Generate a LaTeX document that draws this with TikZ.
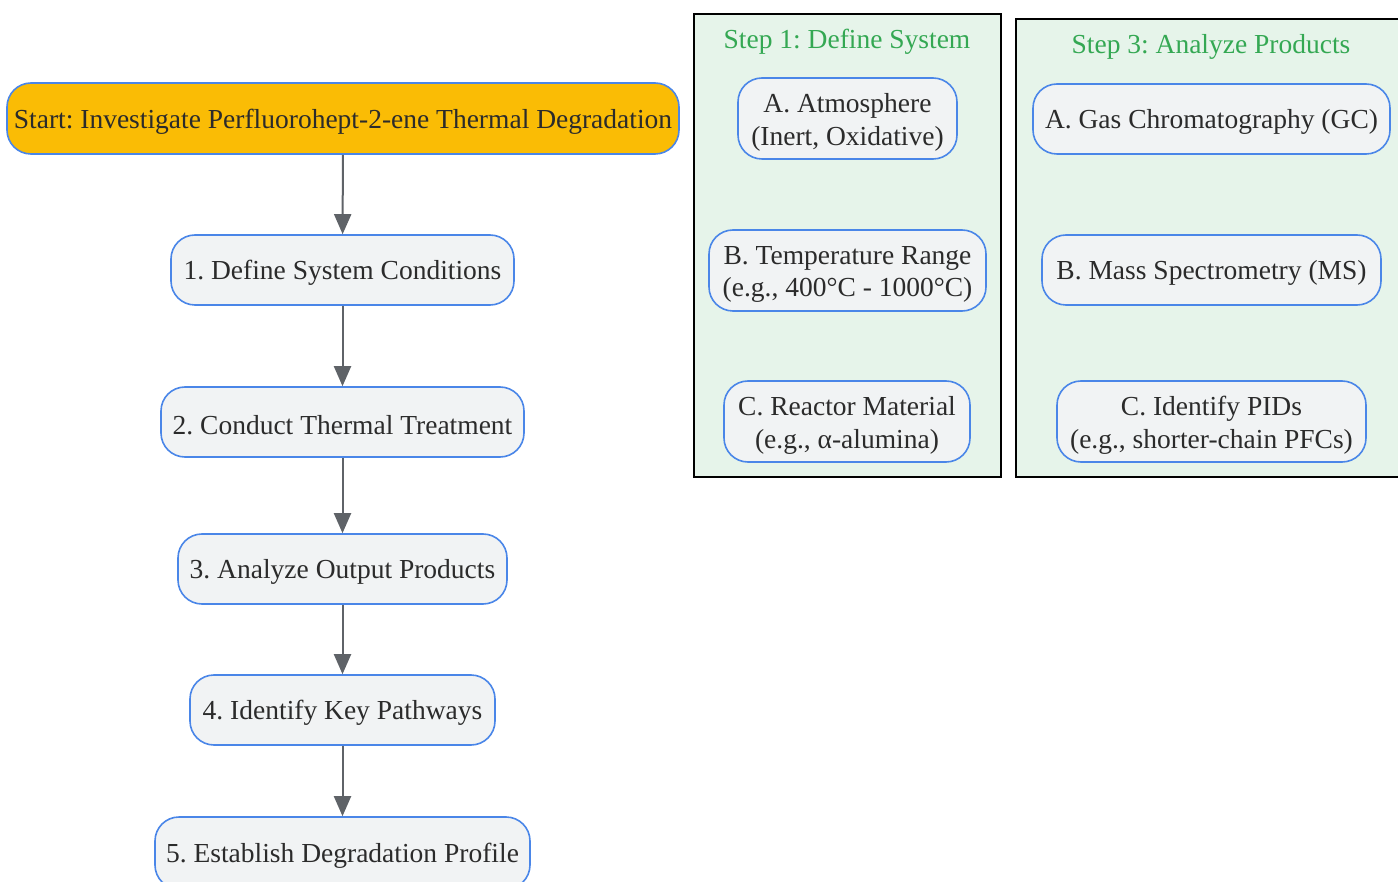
\documentclass[tikz,border=0pt]{standalone}
\usepackage{fontspec}
\setmainfont{Liberation Serif}
\usetikzlibrary{arrows.meta}
\definecolor{nodefill}{HTML}{F1F3F4}
\definecolor{nodeborder}{HTML}{4A86E8}
\definecolor{startfill}{HTML}{FABC05}
\definecolor{clusterfill}{HTML}{E6F4EA}
\definecolor{titlegreen}{HTML}{34A853}
\definecolor{txt}{HTML}{2B2B2B}
\definecolor{arrowgray}{HTML}{5F6368}
\tikzset{
  box/.style={draw=nodeborder, line width=1.6pt, fill=nodefill, rounded corners=24pt, inner sep=0pt},
  startbox/.style={box, fill=startfill},
  lbl/.style={align=center, inner sep=0pt, text=txt, font=\fontsize{27.5}{32.5}\selectfont\frenchspacing},
  cluster/.style={draw=black, line width=2pt, fill=clusterfill, inner sep=0pt},
  ctitle/.style={text=titlegreen, font=\fontsize{27.5}{32.5}\selectfont\frenchspacing, inner sep=0pt},
  flow/.style={draw=arrowgray, line width=2pt, -{Triangle[length=20pt,width=17pt]}}
}
\begin{document}
\begin{tikzpicture}[x=1pt,y=-1pt]
\useasboundingbox (0,0) rectangle (1398,882);
\clip (0,0) rectangle (1398,882);
% clusters
\node[cluster, minimum width=307pt, minimum height=463pt] (c1) at (847.5,245.5) {};
\node[cluster, minimum width=400pt, minimum height=458pt] (c2) at (1216,248) {};
\node[ctitle] (t1) at (847,41.5) {Step 1: Define System};
\node[ctitle] (t2) at (1211,46.5) {Step 3: Analyze Products};
% main flow
\node[startbox, minimum width=672pt, minimum height=71pt] (s) at (343,118.5) {};
\node[box, minimum width=343pt, minimum height=70pt] (n1) at (342.5,270) {};
\node[box, minimum width=363pt, minimum height=70pt] (n2) at (342.5,422) {};
\node[box, minimum width=329pt, minimum height=70pt] (n3) at (342.5,569) {};
\node[box, minimum width=305pt, minimum height=70pt] (n4) at (342.5,710) {};
\node[box, minimum width=375pt, minimum height=72pt] (n5) at (342.5,853) {};
\node[lbl] (st) at ([yshift=-3pt]s.center) {Start: Investigate Perfluorohept-2-ene Thermal Degradation};
\node[lbl] (n1t) at ([yshift=-3pt]n1.center) {1. Define System Conditions};
\node[lbl] (n2t) at ([yshift=-3pt]n2.center) {2. Conduct Thermal Treatment};
\node[lbl] (n3t) at ([yshift=-3pt]n3.center) {3. Analyze Output Products};
\node[lbl] (n4t) at ([yshift=-3pt]n4.center) {4. Identify Key Pathways};
\node[lbl] (n5t) at ([yshift=-3pt]n5.center) {5. Establish Degradation Profile};
\draw[flow] (s) -- (n1);
\draw[flow] (n1) -- (n2);
\draw[flow] (n2) -- (n3);
\draw[flow] (n3) -- (n4);
\draw[flow] (n4) -- (n5);
% cluster 1
\node[box, minimum width=219pt, minimum height=81pt] (a1) at (847.5,118.5) {};
\node[box, minimum width=277pt, minimum height=81pt] (b1) at (847.5,270.5) {};
\node[box, minimum width=246pt, minimum height=81pt] (d1) at (847,421.5) {};
\node[lbl] (a1t) at ([yshift=-4pt]a1.center) {A. Atmosphere\\(Inert, Oxidative)};
\node[lbl] (b1t) at ([yshift=-4pt]b1.center) {B. Temperature Range\\(e.g., 400°C - 1000°C)};
\node[lbl] (d1t) at ([yshift=-4pt]d1.center) {C. Reactor Material\\(e.g., α-alumina)};
% cluster 2
\node[box, minimum width=357pt, minimum height=70pt] (a2) at (1211.5,119) {};
\node[box, minimum width=339pt, minimum height=70pt] (b2) at (1211.5,270) {};
\node[box, minimum width=309pt, minimum height=81pt] (d2) at (1211.5,421.5) {};
\node[lbl] (a2t) at ([yshift=-3pt]a2.center) {A. Gas Chromatography (GC)};
\node[lbl] (b2t) at ([yshift=-3pt]b2.center) {B. Mass Spectrometry (MS)};
\node[lbl] (d2t) at ([yshift=-4pt]d2.center) {C. Identify PIDs\\(e.g., shorter-chain PFCs)};
\end{tikzpicture}
\end{document}
